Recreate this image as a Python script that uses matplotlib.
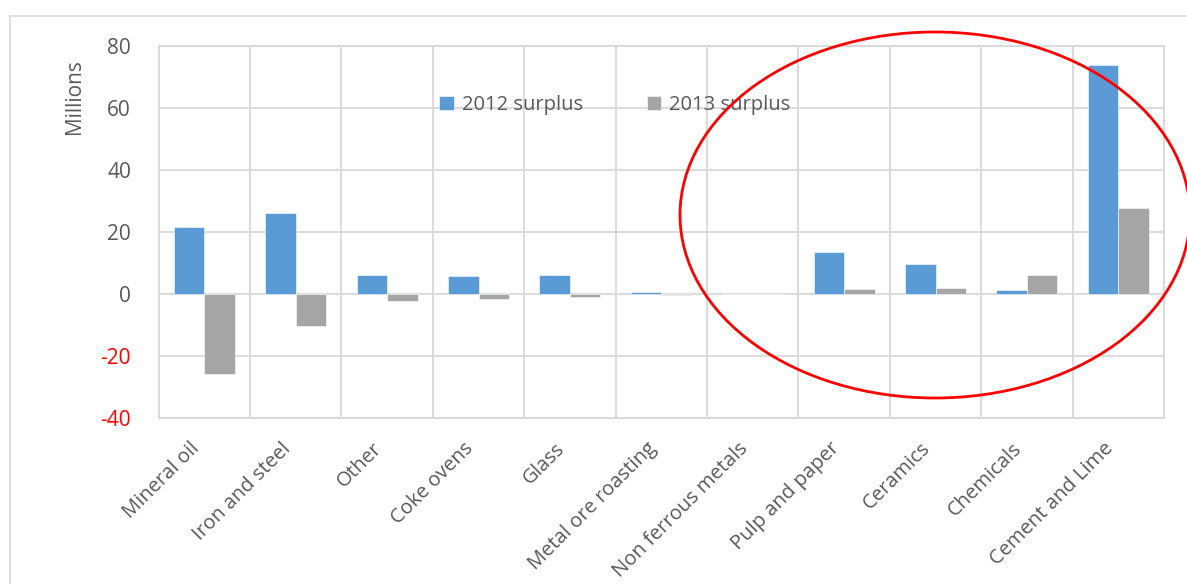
import numpy as np
import matplotlib
matplotlib.use("Agg")
import matplotlib.pyplot as plt
import matplotlib.transforms as mtransforms
from matplotlib.patches import Ellipse, Rectangle

categories = ["Mineral oil", "Iron and steel", "Other", "Coke ovens", "Glass",
              "Metal ore roasting", "Non ferrous metals", "Pulp and paper",
              "Ceramics", "Chemicals", "Cement and Lime"]
surplus_2012 = [21.4, 26.1, 6.0, 5.7, 6.1, 0.4, 0.0, 13.3, 9.7, 1.1, 73.7]
surplus_2013 = [-25.9, -10.4, -2.3, -1.6, -1.1, -0.4, 0.0, 1.4, 2.0, 5.9, 27.8]
y_ticks = [-40, -20, 0, 20, 40, 60, 80]

W, H = 1187, 584
plt.rcParams['font.family'] = ['Open Sans', 'DejaVu Sans']
txt = '#595959'
grid = '#d9d9d9'

fig = plt.figure(figsize=(W / 100, H / 100), dpi=100)
ax = fig.add_axes([158.7 / W, 1 - 417.7 / H, (1164 - 158.7) / W, (417.7 - 45.7) / H])

x = np.arange(len(categories))
w = 1 / 3
ax.bar(x - w / 2, surplus_2012, w, color='#5b9bd5', edgecolor='white', linewidth=0.4,
       label='2012 surplus', zorder=3)
ax.bar(x + w / 2, surplus_2013, w, color='#a5a5a5', edgecolor='white', linewidth=0.4,
       label='2013 surplus', zorder=3)

ax.set_xlim(-0.5, len(categories) - 0.5)
ax.set_ylim(-40, 80)
ax.set_yticks(y_ticks)
ax.set_yticklabels([str(v) for v in y_ticks], fontsize=15)
for lab, v in zip(ax.get_yticklabels(), y_ticks):
    lab.set_color('#ff0000' if v < 0 else txt)

# category boundaries as vertical gridlines, labels drawn as rotated text
ax.set_xticks(np.arange(len(categories) + 1) - 0.5)
ax.set_xticklabels([])
ax.tick_params(axis='x', length=0)
ax.tick_params(axis='y', length=0, pad=20)
lab_tr = ax.get_xaxis_transform() + mtransforms.ScaledTranslation(
    -0.15, -0.21, fig.dpi_scale_trans)
for i, name in enumerate(categories):
    ax.text(i, 0, name, transform=lab_tr, rotation=45, ha='right', va='top',
            rotation_mode='anchor', fontsize=14.5, color=txt)
ax.grid(True, color=grid, linewidth=1.3, zorder=0)
for s in ax.spines.values():
    s.set_color(grid)
    s.set_linewidth(1.3)

fig.text(75 / W, 1 - 97 / H, 'Millions', rotation=90, ha='center', va='center',
         fontsize=15, color=txt)

leg = ax.legend(loc='center', bbox_to_anchor=(615 / W, 1 - 105 / H),
                bbox_transform=fig.transFigure, ncol=2, frameon=False,
                fontsize=14.5, handlelength=0.7, handleheight=0.7,
                handletextpad=0.4, columnspacing=3.2)
for t in leg.get_texts():
    t.set_color(txt)

# outer chart border
fig.patches.append(Rectangle((10 / W, -0.2), 1.2, 1.2 - 16 / H, transform=fig.transFigure,
                             fill=False, edgecolor=grid, linewidth=1.2))
# red highlight ellipse
fig.patches.append(Ellipse((935 / W, 1 - 215 / H), 510 / W, 366 / H,
                           transform=fig.transFigure, fill=False,
                           edgecolor='#ff0000', linewidth=2, zorder=10))

fig.savefig('out.png', dpi=100)
